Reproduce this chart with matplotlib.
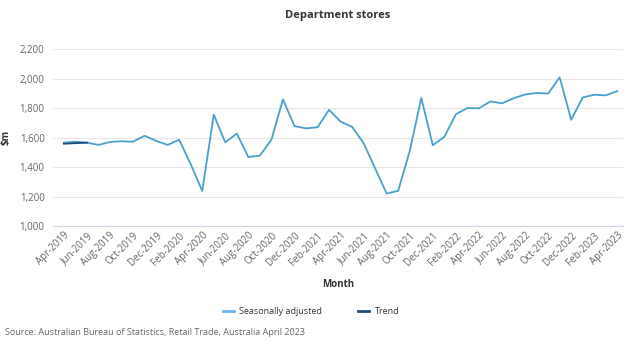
import matplotlib
matplotlib.use("Agg")
import matplotlib.pyplot as plt
from matplotlib.ticker import FuncFormatter

plt.rcParams['font.family'] = ['Open Sans', 'DejaVu Sans']

# 数据: 2019年4月 - 2023年4月 月度数据
months = ['Apr-2019', 'May-2019', 'Jun-2019', 'Jul-2019', 'Aug-2019', 'Sep-2019', 'Oct-2019',
          'Nov-2019', 'Dec-2019', 'Jan-2020', 'Feb-2020', 'Mar-2020', 'Apr-2020', 'May-2020',
          'Jun-2020', 'Jul-2020', 'Aug-2020', 'Sep-2020', 'Oct-2020', 'Nov-2020', 'Dec-2020',
          'Jan-2021', 'Feb-2021', 'Mar-2021', 'Apr-2021', 'May-2021', 'Jun-2021', 'Jul-2021',
          'Aug-2021', 'Sep-2021', 'Oct-2021', 'Nov-2021', 'Dec-2021', 'Jan-2022', 'Feb-2022',
          'Mar-2022', 'Apr-2022', 'May-2022', 'Jun-2022', 'Jul-2022', 'Aug-2022', 'Sep-2022',
          'Oct-2022', 'Nov-2022', 'Dec-2022', 'Jan-2023', 'Feb-2023', 'Mar-2023', 'Apr-2023']

seasonally_adjusted = [1565, 1572, 1566, 1550, 1570, 1575, 1572, 1612, 1578, 1550, 1585, 1420,
                       1238, 1755, 1567, 1627, 1468, 1478, 1585, 1858, 1678, 1662, 1670, 1788,
                       1708, 1672, 1562, 1390, 1220, 1240, 1510, 1868, 1548, 1605, 1758, 1800,
                       1798, 1845, 1832, 1866, 1892, 1902, 1898, 2008, 1720, 1872, 1890, 1886,
                       1915]

trend = [1558, 1562, 1565]

x = list(range(len(months)))

fig, ax = plt.subplots(figsize=(6.3, 3.5), dpi=100)
fig.subplots_adjust(left=0.084, right=0.989, top=0.86, bottom=0.354)

ax.plot(x, seasonally_adjusted, color='#4a9fd0', lw=1.3, label='Seasonally adjusted', zorder=3)
ax.plot(x[:len(trend)], trend, color='#1f4e79', lw=1.3, label='Trend', zorder=4)

ax.set_ylim(1000, 2200)
ax.set_yticks(range(1000, 2201, 200))
ax.yaxis.set_major_formatter(FuncFormatter(lambda v, p: f'{int(v):,}'))
ax.set_xlim(-0.95, 48.5)
ax.set_xticks(x[::2])
ax.set_xticklabels(months[::2], rotation=45, ha='right', rotation_mode='anchor')

ax.grid(axis='y', color='#e6e6e6', lw=0.8)
ax.set_axisbelow(True)
for s in ['top', 'right', 'left']:
    ax.spines[s].set_visible(False)
ax.spines['bottom'].set_color('#ccd6eb')
ax.tick_params(axis='both', length=0, labelsize=7, colors='#666666', pad=3)
ax.tick_params(axis='y', pad=6)

ax.set_ylabel('$m', fontsize=7, fontweight='bold', color='#333333', labelpad=6)
ax.set_xlabel('Month', fontsize=7, fontweight='bold', color='#333333', labelpad=8)
ax.set_title('Department stores', fontsize=8, fontweight='bold', color='#333333', pad=22)

leg = fig.legend(loc='center', bbox_to_anchor=(0.494, 0.11), ncol=2, frameon=False,
                 fontsize=6.5, handlelength=1.2, handletextpad=0.6, columnspacing=4)
for t in leg.get_texts():
    t.set_color('#333333')
leg.get_lines()[0].set_color('#6ab8e8')
leg.get_lines()[0].set_linewidth(2)
leg.get_lines()[1].set_linewidth(2)

fig.text(0.008, 0.049, 'Source: Australian Bureau of Statistics, Retail Trade, Australia April 2023',
         fontsize=6.5, color='#666666', va='center')

fig.savefig('out.png', dpi=100)
